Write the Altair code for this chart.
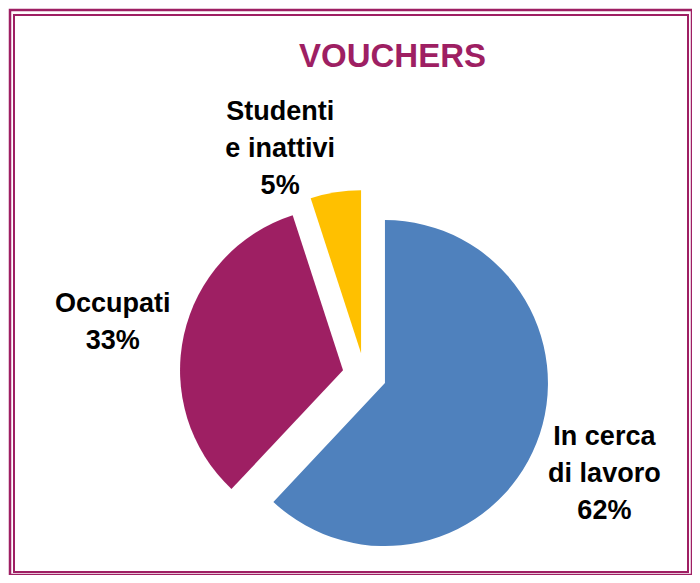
import math
import altair as alt
import pandas as pd

# ---- data ----
categories = ["In cerca di lavoro", "Occupati", "Studenti e inattivi"]
label_lines = ["In cerca|di lavoro|62%", "Occupati|33%", "Studenti|e inattivi|5%"]
values = [62, 33, 5]
colors = ["#4F81BD", "#9E1F63", "#FFC000"]
title_text = "VOUCHERS"

# ---- layout (style, not data) ----
W, H = 684, 567
CX, CY = 355.5, 366.0      # pie centre inside the view
R = 163                    # pie radius
EXPLODE = 22               # explode distance of every slice
LABEL_R = 258              # label distance from centre
LINE_H = 37
LABEL_DY = 4
nudge_x = {"Studenti e inattivi": -44}
nudge_y = {"Studenti e inattivi": 25}
FONT = "Liberation Sans Narrow, Arial Narrow, Liberation Sans, Arial, sans-serif"
PURPLE = "#9E1F63"

df = pd.DataFrame({
    "cat": categories,
    "lines": label_lines,
    "value": values,
    "order": list(range(len(categories))),
})
df["nx"] = [nudge_x.get(c, 0) for c in categories]
df["ny"] = [nudge_y.get(c, 0) for c in categories]

base = (
    alt.Chart(df)
    .transform_joinaggregate(total="sum(value)")
    .transform_window(cum="sum(value)", sort=[alt.SortField("order")])
    .transform_calculate(
        f0="(datum.cum - datum.value) / datum.total",
        f1="datum.cum / datum.total",
    )
    .transform_calculate(mid="(datum.f0 + datum.f1) * PI")
    .transform_calculate(
        cx=f"{CX} + {EXPLODE} * sin(datum.mid)",
        cy=f"{CY} - {EXPLODE} * cos(datum.mid)",
        txt="split(datum.lines, '|')",
    )
    .transform_calculate(
        lx=f"{CX} + {LABEL_R} * sin(datum.mid) + datum.nx",
        ly=f"{CY} - {LABEL_R} * cos(datum.mid) + datum.ny + {LABEL_DY} - (length(datum.txt) - 1) * {LINE_H} / 2",
    )
)

color = alt.Color(
    "cat:N",
    scale=alt.Scale(domain=categories, range=colors),
    legend=None,
)

arcs = base.mark_arc(outerRadius=R, innerRadius=0).encode(
    x=alt.X("cx:Q", scale=None, axis=None),
    y=alt.Y("cy:Q", scale=None, axis=None),
    theta=alt.Theta("f0:Q", scale=alt.Scale(domain=[0, 1], range=[0, 2 * math.pi]), stack=None),
    theta2="f1:Q",
    color=color,
)

labels = base.mark_text(
    font=FONT, fontSize=27, fontWeight="bold", lineHeight=LINE_H,
    align="center", baseline="middle", color="#000000",
).encode(
    x=alt.X("lx:Q", scale=None, axis=None),
    y=alt.Y("ly:Q", scale=None, axis=None),
    text=alt.Text("txt:N"),
)

title_df = pd.DataFrame({"t": [title_text]})
title = alt.Chart(title_df).mark_text(
    font=FONT, fontSize=33, fontWeight="bold", color=PURPLE,
    align="center", baseline="alphabetic",
).encode(x=alt.value(383.5), y=alt.value(58), text="t:N")

frame_df = pd.DataFrame({"a": [0]})
outer = alt.Chart(frame_df).mark_rect(fill="transparent", stroke=PURPLE, strokeWidth=2.5).encode(
    x=alt.value(1), x2=alt.value(W - 1), y=alt.value(1), y2=alt.value(H - 1)
)
inner = alt.Chart(frame_df).mark_rect(fill="transparent", stroke=PURPLE, strokeWidth=2).encode(
    x=alt.value(5), x2=alt.value(W - 5), y=alt.value(6), y2=alt.value(H - 4)
)

chart = (
    alt.layer(outer, inner, arcs, labels, title)
    .properties(width=W, height=H, padding=0,
                autosize=alt.AutoSizeParams(type="fit", contains="padding"))
    .configure_view(stroke=None)
    .configure(background="#FFFFFF")
)

chart.save("out.html", embed_options={"renderer": "svg", "actions": False})
